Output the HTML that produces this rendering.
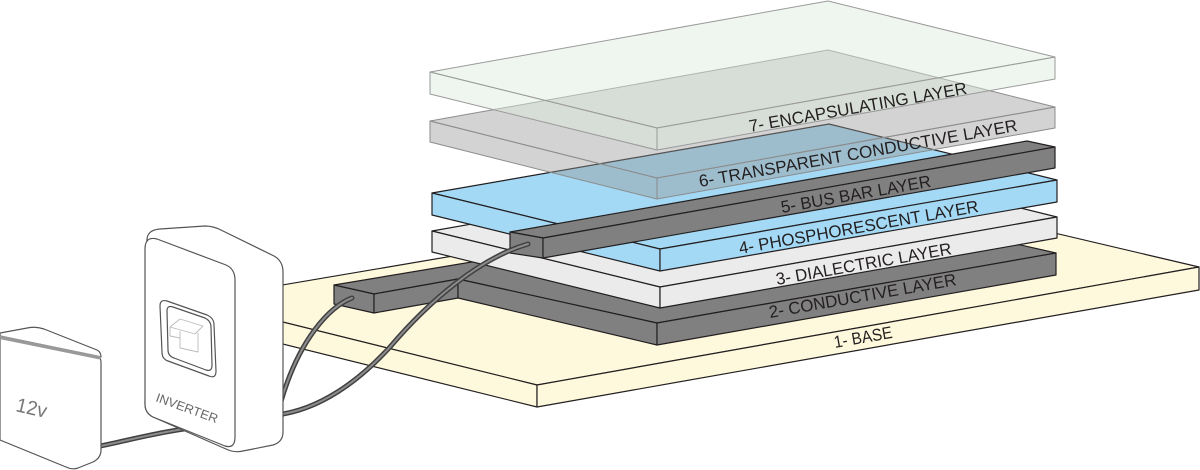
<!DOCTYPE html>
<html><head><meta charset="utf-8"><style>
html,body{margin:0;padding:0;background:#fff;}
svg{display:block;}
text{font-family:"Liberation Sans",sans-serif;}
</style></head><body>
<svg width="1200" height="470" viewBox="0 0 1200 470" xmlns="http://www.w3.org/2000/svg">
<g stroke="#231f20" stroke-width="1.2" stroke-linejoin="round">
<!-- 1 base -->
<polygon fill="#fef9dc" points="194,300 859,187 1199,267 537,385"/>
<polygon fill="#fef9dc" points="194,300 537,385 537,407 194,322"/>
<polygon fill="#fef9dc" points="537,385 1199,267 1199,290 537,407"/>
<!-- 2 conductive + tab -->
<polygon fill="#808080" points="334,285 374,294 458,279 657,323 1056,253 831,202"/>
<polygon fill="#808080" points="334,285 374,294 374,313 334,304"/>
<polygon fill="#808080" points="374,294 458,279 458,298 374,313"/>
<polygon fill="#808080" points="458,279 657,323 657,345 458,298"/>
<polygon fill="#808080" points="657,323 1056,253 1056,275 657,345"/>
<!-- 3 dielectric -->
<polygon fill="#ebebeb" points="432,231 829,161 1057,217 660,287"/>
<polygon fill="#ebebeb" points="432,231 660,287 660,308 432,252"/>
<polygon fill="#ebebeb" points="660,287 1057,217 1057,238 660,308"/>
<!-- 4 phosphorescent -->
<polygon fill="#a3d9f5" points="432,193 829,124 1057,180 660,249"/>
<polygon fill="#a3d9f5" points="432,193 660,249 660,271 432,215"/>
<polygon fill="#a3d9f5" points="660,249 1057,180 1057,202 660,271"/>
<!-- 5 bus bar -->
<polygon fill="#808080" points="510,232 1027,141 1055,147 543,238"/>
<polygon fill="#808080" points="510,232 543,238 543,258 510,253"/>
<polygon fill="#808080" points="543,238 1055,147 1055,168 543,258"/>
</g>
<!-- 6 transparent conductive -->
<g stroke="#8c8c8c" stroke-width="1" stroke-linejoin="round" fill="rgba(150,150,150,0.42)">
<polygon points="430,121 828,50 1055,107 657,178"/>
<polygon points="430,121 657,178 657,199 430,142"/>
<polygon points="657,178 1055,107 1055,128 657,199"/>
</g>
<!-- 7 encapsulating -->
<g stroke="#9a9a9a" stroke-width="1" stroke-linejoin="round" fill="rgba(220,236,222,0.45)">
<polygon points="430,72 828,1 1055,57 657,128"/>
<polygon points="430,72 657,128 657,150 430,94"/>
<polygon points="657,128 1055,57 1055,79 657,150"/>
</g>
<!-- labels -->
<g font-size="17" fill="#231f20">
<text transform="translate(750,132) rotate(-10)" textLength="221" lengthAdjust="spacingAndGlyphs">7- ENCAPSULATING LAYER</text>
<text transform="translate(700,187) rotate(-10)" textLength="323" lengthAdjust="spacingAndGlyphs">6- TRANSPARENT CONDUCTIVE LAYER</text>
<text transform="translate(782,213) rotate(-10)" textLength="152" lengthAdjust="spacingAndGlyphs">5- BUS BAR LAYER</text>
<text transform="translate(740,254) rotate(-10)" textLength="243" lengthAdjust="spacingAndGlyphs">4- PHOSPHORESCENT LAYER</text>
<text transform="translate(777,285) rotate(-10)" textLength="178" lengthAdjust="spacingAndGlyphs">3- DIALECTRIC LAYER</text>
<text transform="translate(770,318) rotate(-10)" textLength="190" lengthAdjust="spacingAndGlyphs">2- CONDUCTIVE LAYER</text>
<text transform="translate(835,348) rotate(-10)" textLength="59" lengthAdjust="spacingAndGlyphs">1- BASE</text>
</g>
<!-- wires -->
<g fill="none" stroke-linecap="round">
<path d="M352,298 C330,306 298,340 280,405" stroke="#404040" stroke-width="5"/>
<path d="M352,298 C330,306 298,340 280,405" stroke="#8c8c8c" stroke-width="2"/>
<path d="M528,244 C480,258 430,300 390,347 C360,380 320,410 276,415" stroke="#404040" stroke-width="5"/>
<path d="M528,244 C480,258 430,300 390,347 C360,380 320,410 276,415" stroke="#8c8c8c" stroke-width="2"/>
<path d="M96,447 C130,440 165,430 215,425" stroke="#404040" stroke-width="5"/>
<path d="M96,447 C130,440 165,430 215,425" stroke="#8c8c8c" stroke-width="2"/>
</g>
<!-- inverter -->
<g stroke="#555" stroke-width="1.2" stroke-linejoin="round" fill="#fff">
<path d="M147,242 Q146,230 160,229 L205,226 Q214,226 223,231 L274,256 Q283,261 283,272 L283,432 Q283,442 273,445 L243,451 Q234,453 226,449 L153,417 Q145,413 145,404 Z"/>
<path d="M145,249 Q145,236 157,239 L226,265 Q235,269 235,280 L235,437 Q235,449 225,446 L153,417 Q145,413 145,404 Z"/>
<path d="M160,306 Q160,299 167,301 L207,315 Q214,318 214,325 L216,371 Q216,379 209,376 L168,361 Q162,359 162,352 Z"/>
<path d="M167,311 Q167,305 173,307 L205,318 Q211,321 211,327 L212,365 Q212,372 206,370 L174,358 Q168,356 168,350 Z"/>
</g>
<g stroke="#bbb" stroke-width="0.9" fill="none" stroke-linejoin="round">
<path d="M170,327 L180,319 L203,326 L195,334 Z M170,327 L170,336 L180,338 M180,331 L180,348 L198,352 L198,333"/>
</g>
<text transform="translate(155,401) rotate(20)" font-size="12.5" fill="#666" textLength="65" lengthAdjust="spacingAndGlyphs">INVERTER</text>
<!-- 12v box -->
<g stroke="#555" stroke-width="1.2" stroke-linejoin="round" fill="#fff">
<path d="M0,336 L96,356 Q101,357 101,362 L101,450 Q101,458 93,462 L78,468 Q72,470 66,467 L0,440 Z"/>
<path d="M0,333 L30,327.5 Q37,326.5 44,329 L97,350 Q101,352 101,357 L0,336 Z"/>
</g>
<path d="M1,337.5 L99,357.5" stroke="#999" stroke-width="3.5" fill="none" stroke-linecap="round"/>
<text transform="translate(15,411) rotate(13)" font-size="20" fill="#777" textLength="31" lengthAdjust="spacingAndGlyphs">12v</text>
</svg>
</body></html>
